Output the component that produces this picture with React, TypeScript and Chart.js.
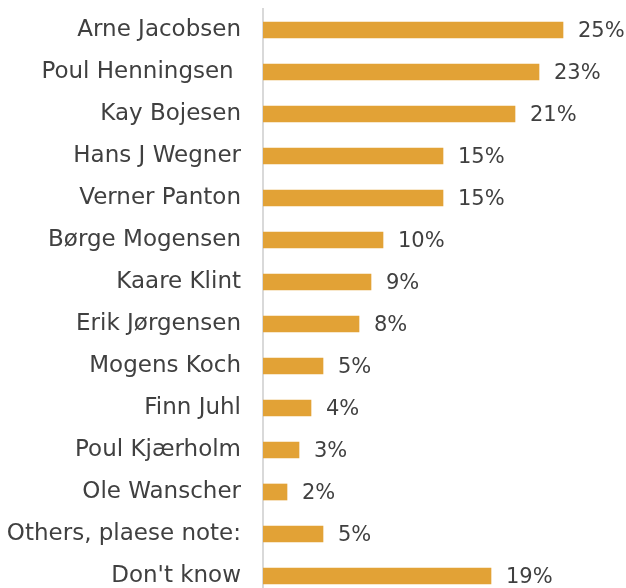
import React, { useEffect, useRef } from "react";
import { Chart, registerables } from "chart.js";

Chart.register(...registerables);

const categories = [
  "Arne Jacobsen",
  "Poul Henningsen ",
  "Kay Bojesen",
  "Hans J Wegner",
  "Verner Panton",
  "Børge Mogensen",
  "Kaare Klint",
  "Erik Jørgensen",
  "Mogens Koch",
  "Finn Juhl",
  "Poul Kjærholm",
  "Ole Wanscher",
  "Others, plaese note:",
  "Don't know",
];
const values = [25, 23, 21, 15, 15, 10, 9, 8, 5, 4, 3, 2, 5, 19];
const valueLabels = ["25%", "23%", "21%", "15%", "15%", "10%", "9%", "8%", "5%", "4%", "3%", "2%", "5%", "19%"];

const FONT = "'DejaVu Sans', sans-serif";
const TEXT = "#404040";

const labelPlugin = {
  id: "barValueLabels",
  afterDatasetsDraw(chart: any) {
    const ctx = chart.ctx;
    const meta = chart.getDatasetMeta(0);
    ctx.save();
    ctx.font = `21px ${FONT}`;
    ctx.fillStyle = TEXT;
    ctx.textAlign = "left";
    ctx.textBaseline = "middle";
    meta.data.forEach((bar: any, i: number) => {
      ctx.fillText(valueLabels[i], bar.x + 15, bar.y + 2);
    });
    ctx.restore();
  },
};

export default function App() {
  const ref = useRef<HTMLCanvasElement | null>(null);
  useEffect(() => {
    if (!ref.current) return;
    const chart = new Chart(ref.current, {
      type: "bar",
      data: {
        labels: categories,
        datasets: [
          {
            data: values,
            backgroundColor: "#E2A236",
            borderWidth: 0,
            barThickness: 16,
          },
        ],
      },
      options: {
        indexAxis: "y",
        animation: false,
        responsive: false,
        maintainAspectRatio: false,
        layout: { padding: { top: 9, bottom: 9, left: 0, right: 3 } },
        plugins: { legend: { display: false }, tooltip: { enabled: false } },
        scales: {
          x: {
            display: false,
            min: 0,
            max: 30,
          },
          y: {
            grid: { display: false, drawTicks: false },
            border: { display: true, color: "#d9d9d9", width: 2 },
            ticks: {
              color: TEXT,
              font: { family: FONT, size: 23 },
              padding: 22,
            },
            afterFit(scale: any) {
              scale.width = 263;
              scale.paddingTop = 0;
              scale.paddingBottom = 0;
            },
          },
        },
      },
      plugins: [labelPlugin],
    });
    return () => chart.destroy();
  }, []);
  return (
    <div style={{ position: "absolute", left: 0, top: 0, width: 626, height: 588, overflow: "hidden", background: "#fff" }}>
      <canvas ref={ref} width={626} height={606} style={{ display: "block" }} />
    </div>
  );
}
